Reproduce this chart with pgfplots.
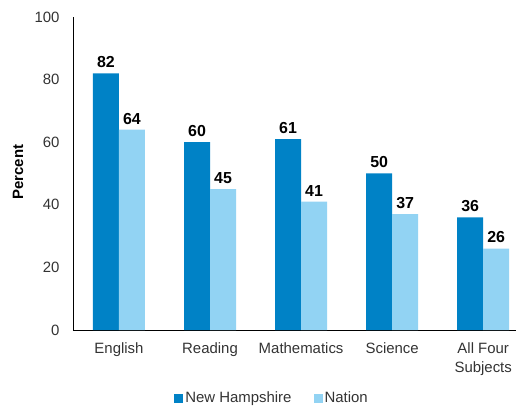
\documentclass[border=0pt]{standalone}
\usepackage{pgfplots}
\pgfplotsset{compat=1.18}
\usepackage{fontspec}
\setmainfont{Liberation Sans}
\definecolor{nh}{HTML}{0082C6}
\definecolor{nat}{HTML}{92D3F3}
\definecolor{txt}{HTML}{333333}
\begin{document}
\begin{tikzpicture}
\useasboundingbox (-73bp,-76bp) rectangle (443bp,330bp);
\begin{axis}[
  scale only axis,
  width=443bp, height=313bp,
  xmin=-0.505, xmax=4.36,
  ymin=0, ymax=100,
  ytick={0,20,...,100},
  xtick={0,1,2,3,4},
  xticklabels={English,Reading,Mathematics,Science,{All Four\\Subjects}},
  axis x line*=bottom, axis y line*=left,
  axis line style={black, line width=0.8pt, -},
  major tick length=0pt,
  tick label style={font=\fontsize{15}{19}\selectfont, text=txt},
  xticklabel style={align=center, yshift=-9bp},
  yticklabel style={xshift=-10bp},
  /pgf/number format/assume math mode=true,
  ylabel={Percent},
  every axis y label/.style={at={(-55bp,158bp)}, rotate=90, anchor=center, font=\fontsize{15}{18}\selectfont\bfseries},
  ybar, bar width=26bp,
  nodes near coords,
  every node near coord/.append style={font=\fontsize{16}{18}\selectfont\bfseries, anchor=south, yshift=2bp},
  legend style={at={(199bp,-68bp)}, anchor=center, draw=none, legend columns=2,
    font=\fontsize{15}{18}\selectfont, text=txt,
    /tikz/every even column/.append style={column sep=20bp}},
  legend image code/.code={\fill[#1] (0bp,-4.5bp) rectangle (9bp,4.5bp);},
]
\addplot[fill=nh, draw=none, bar shift=-13bp] coordinates {(0,82) (1,60) (2,61) (3,50) (4,36)};
\addplot[fill=nat, draw=none, bar shift=13bp] coordinates {(0,64) (1,45) (2,41) (3,37) (4,26)};
\legend{New Hampshire, Nation}
\end{axis}
\end{tikzpicture}
\end{document}
